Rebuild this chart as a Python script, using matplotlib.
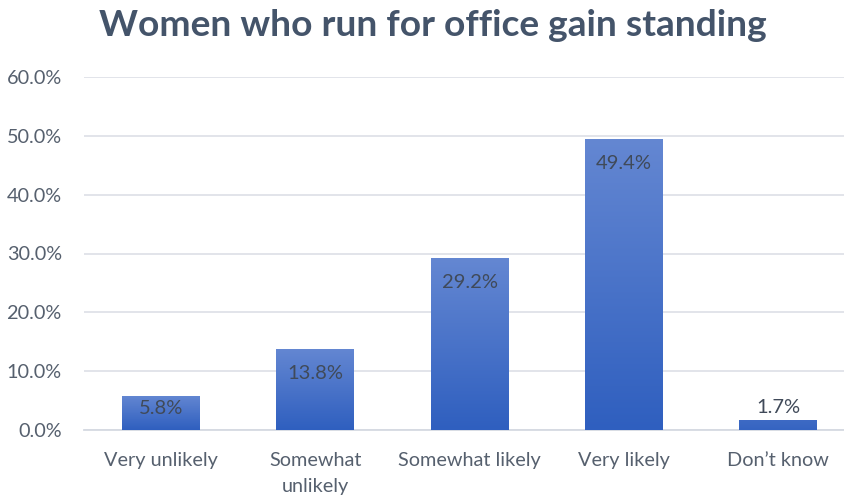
import matplotlib
matplotlib.use("Agg")
import matplotlib.pyplot as plt
import numpy as np
from matplotlib.colors import LinearSegmentedColormap
from matplotlib.ticker import FuncFormatter

categories = ["Very unlikely", "Somewhat\nunlikely", "Somewhat likely", "Very likely", "Don\u2019t know"]
values = [5.8, 13.8, 29.2, 49.4, 1.7]
yticks = [0, 10, 20, 30, 40, 50, 60]

plt.rcParams['font.family'] = ['Lato', 'DejaVu Sans']

fig = plt.figure(figsize=(8.45, 5), dpi=100)
ax = fig.add_axes([84 / 845, 70 / 500, 1 - 84 / 845, 353 / 500])

x = np.arange(len(categories))
width = 0.505
bars = ax.bar(x, values, width=width, color="none", edgecolor="none", zorder=3)

# vertical gradient for each bar, light at top, dark at bottom
cmap = LinearSegmentedColormap.from_list("bar", ["#2f5fbf", "#6487d2"])
grad = np.linspace(0, 1, 256).reshape(-1, 1)
for b in bars:
    x0, y0 = b.get_x(), b.get_y()
    w, h = b.get_width(), b.get_height()
    lo = 0.12 if h < 3 else 0.0
    hi = 0.3 if h < 3 else 1.0
    im = ax.imshow(grad * (hi - lo) + lo, cmap=cmap, vmin=0, vmax=1, aspect="auto",
                   origin="lower", extent=[x0, x0 + w, y0, y0 + h], zorder=3)
    im.set_clip_path(b)

# labels sit inside the bar end; short bars push them up, tiny ones go above
for xi, v in zip(x, values):
    if v > 10:
        ax.text(xi, v - 2.7, f"{v:.1f}%", ha="center", va="top", fontsize=14.5,
                color="#404a59", zorder=4)
    elif v > 4:
        ax.text(xi, v - 0.7, f"{v:.1f}%", ha="center", va="top", fontsize=14.5,
                color="#404a59", zorder=4)
    else:
        ax.text(xi, v + 0.6, f"{v:.1f}%", ha="center", va="bottom", fontsize=14.5,
                color="#404a59", zorder=4)

ax.set_xlim(-0.5, 4.434)
ax.set_ylim(0, 60)
ax.set_yticks(yticks)
ax.yaxis.set_major_formatter(FuncFormatter(lambda v, p: f"{v:.1f}%"))
ax.set_xticks(x)
ax.set_xticklabels(categories, linespacing=1.6)
ax.tick_params(axis="both", length=0, labelsize=14.3, colors="#56606e")
ax.tick_params(axis="x", pad=16)
ax.tick_params(axis="y", pad=16)

ax.grid(axis="y", color="#dfe2e8", linewidth=1.3, zorder=0)
for s in ["top", "right", "left"]:
    ax.spines[s].set_visible(False)
ax.spines["bottom"].set_color("#d5dae2")
ax.spines["bottom"].set_linewidth(1.3)
ax.set_autoscale_on(False)

fig.text(433 / 845, 1 - 25 / 500, "Women who run for office gain standing", ha="center",
         va="center", fontsize=26.7, fontweight="bold", color="#44546a")

fig.savefig("out.png", dpi=100)
